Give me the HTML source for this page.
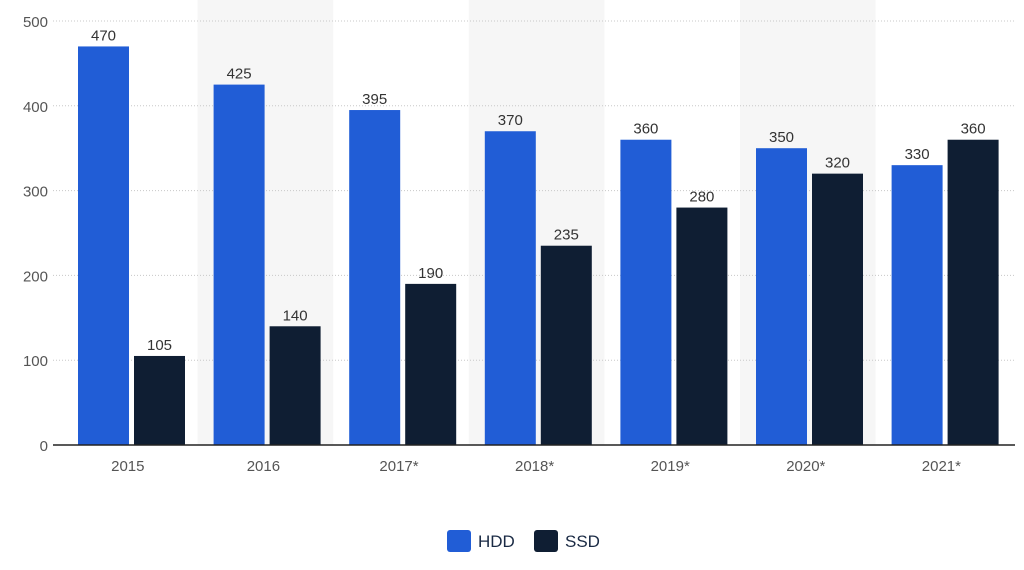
<!DOCTYPE html>
<html><head><meta charset="utf-8"><style>
body{margin:0;background:#fff;width:1024px;height:565px;overflow:hidden;font-family:"Liberation Sans",sans-serif}
</style></head><body>
<svg id="chart" width="1024" height="565" xmlns="http://www.w3.org/2000/svg"></svg>
<script>
const categories=["2015","2016","2017*","2018*","2019*","2020*","2021*"];
const hddValues=[470,425,395,370,360,350,330];
const ssdValues=[105,140,190,235,280,320,360];
const yTicks=[0,100,200,300,400,500];
const svg=document.getElementById('chart');
const NS="http://www.w3.org/2000/svg";
const x0=62,gw=135.6,y0=445,yTop=21,yMax=500;
const y=v=>y0-(v/yMax)*(y0-yTop);
const gx=i=>x0+i*gw;
function el(t,a,txt){const e=document.createElementNS(NS,t);for(const k in a)e.setAttribute(k,a[k]);if(txt!==undefined)e.textContent=txt;svg.appendChild(e);return e;}
categories.forEach((c,i)=>{if(i%2===1){const b=el('rect',{x:gx(i),y:0,width:gw,height:y0,fill:'#f6f6f6'});

}});
yTicks.forEach(t=>{if(t>0){const g=el('line',{x1:53,x2:1015,y1:y(t),y2:y(t),stroke:'#c8c8c8','stroke-dasharray':'1,2'});

}
const l=el('text',{x:48,y:y(t)+6,'text-anchor':'end','font-size':'15',fill:'#555'},t);

});
categories.forEach((c,i)=>{
 const hx=gx(i)+16,sx=gx(i)+72,w=51;
 const h=el('rect',{x:hx,y:y(hddValues[i]),width:w,height:y0-y(hddValues[i]),fill:'#215dd6'});
 
 
 const s=el('rect',{x:sx,y:y(ssdValues[i]),width:w,height:y0-y(ssdValues[i]),fill:'#0f1e33'});
 
 
 const hl=el('text',{x:hx+w/2,y:y(hddValues[i])-6,'text-anchor':'middle','font-size':'15',fill:'#333'},hddValues[i]);
 
 
 const sl=el('text',{x:sx+w/2,y:y(ssdValues[i])-6,'text-anchor':'middle','font-size':'15',fill:'#333'},ssdValues[i]);
 
 
 const xl=el('text',{x:gx(i)+gw/2-2,y:471,'text-anchor':'middle','font-size':'15',fill:'#555'},c);
 
 
});
const ax=el('line',{x1:53,x2:1015,y1:y0,y2:y0,stroke:'#222','stroke-width':1.5});


const lh=el('rect',{x:447,y:530,width:24,height:22,rx:3,fill:'#215dd6'});


const lht=el('text',{x:478,y:547,'font-size':'17',fill:'#1a2a44'},'HDD');


const ls=el('rect',{x:534,y:530,width:24,height:22,rx:3,fill:'#0f1e33'});


const lst=el('text',{x:565,y:547,'font-size':'17',fill:'#1a2a44'},'SSD');


</script>
</body></html>
